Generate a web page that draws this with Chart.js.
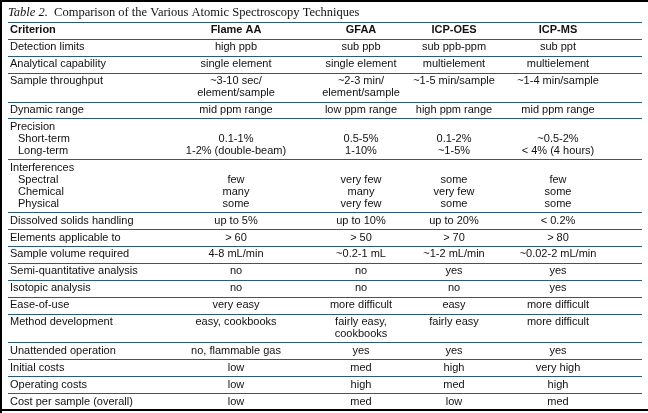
<!DOCTYPE html>
<html>
<head>
<meta charset="utf-8">
<script src="https://cdn.jsdelivr.net/npm/chart.js@4/dist/chart.umd.min.js"></script>
<style>
  html, body { margin: 0; padding: 0; background: #fff; }
  #wrap { width: 648px; height: 413px; }
</style>
</head>
<body>
<div id="wrap"><canvas id="c" width="648" height="413"></canvas></div>
<script>
// ---------- DATA ----------
const tableLabel = "Table 2.";
const tableTitle = "Comparison of the Various Atomic Spectroscopy Techniques";
const headerLabel = "Criterion";
const techniques = ["Flame AA", "GFAA", "ICP-OES", "ICP-MS"];
const criteria = ["Detection limits", "Analytical capability", "Sample throughput", "Dynamic range",
  "Precision", "Interferences", "Dissolved solids handling", "Elements applicable to",
  "Sample volume required", "Semi-quantitative analysis", "Isotopic analysis", "Ease-of-use",
  "Method development", "Unattended operation", "Initial costs", "Operating costs",
  "Cost per sample (overall)"];
const subCriteria = {
  "Precision": ["Short-term", "Long-term"],
  "Interferences": ["Spectral", "Chemical", "Physical"]
};
const flameAA = ["high ppb", "single element", ["~3-10 sec/", "element/sample"], "mid ppm range",
  ["", "0.1-1%", "1-2% (double-beam)"], ["", "few", "many", "some"], "up to 5%", "> 60",
  "4-8 mL/min", "no", "no", "very easy", "easy, cookbooks", "no, flammable gas", "low", "low", "low"];
const gfaa = ["sub ppb", "single element", ["~2-3 min/", "element/sample"], "low ppm range",
  ["", "0.5-5%", "1-10%"], ["", "very few", "many", "very few"], "up to 10%", "> 50",
  "~0.2-1 mL", "no", "no", "more difficult", ["fairly easy,", "cookbooks"], "yes", "med", "high", "med"];
const icpOES = ["sub ppb-ppm", "multielement", "~1-5 min/sample", "high ppm range",
  ["", "0.1-2%", "~1-5%"], ["", "some", "very few", "some"], "up to 20%", "> 70",
  "~1-2 mL/min", "yes", "no", "easy", "fairly easy", "yes", "high", "med", "low"];
const icpMS = ["sub ppt", "multielement", "~1-4 min/sample", "mid ppm range",
  ["", "~0.5-2%", "< 4% (4 hours)"], ["", "few", "some", "some"], "< 0.2%", "> 80",
  "~0.02-2 mL/min", "yes", "yes", "more difficult", "more difficult", "yes", "very high", "high", "med"];
const seriesValues = [flameAA, gfaa, icpOES, icpMS];

// ---------- LAYOUT (styles / positions) ----------
const W = 648, H = 413;
const colCenters = [236, 361, 454, 558];   // x in scale units
const critX = 10, subX = 18;
const ruleLeft = 8, ruleRight = 642;
const PAD = 0.41;                            // row padding in line units
const RULE = "#2b5a7b";
const SANS = '"Liberation Sans", Arial, sans-serif';
const SERIF = '"Liberation Serif", "Times New Roman", serif';
const FS = 11;

// build rows from data
const asLines = v => Array.isArray(v) ? v : [v];
const rows = [];
rows.push({ crit: [headerLabel], cells: techniques.map(t => [t]), header: true });
criteria.forEach((c, i) => {
  const subs = subCriteria[c] || [];
  rows.push({ crit: [c].concat(subs), cells: seriesValues.map(s => asLines(s[i])), header: false });
});
let acc = 0;
rows.forEach(r => {
  r.n = Math.max(r.crit.length, ...r.cells.map(c => c.length));
  r.top = acc;
  acc += r.n + PAD;
  r.bottom = acc;
});
const totalUnits = acc;

const tablePlugin = {
  id: 'tablePlugin',
  afterDraw(chart) {
    const ctx = chart.ctx;
    const xs = chart.scales.x, ys = chart.scales.y;
    ctx.save();
    // title
    ctx.fillStyle = "#111";
    ctx.textBaseline = "middle";
    ctx.textAlign = "left";
    ctx.font = "italic 12.5px " + SERIF;
    const tx = xs.getPixelForValue(8);
    ctx.fillText(tableLabel, tx, 13);
    const w1 = ctx.measureText(tableLabel + "  ").width;
    ctx.font = "12.5px " + SERIF;
    ctx.fillText(tableTitle, tx + w1, 13);

    // outer black frame
    ctx.fillStyle = "#000";
    ctx.fillRect(0, 0, W, 2);
    ctx.fillRect(0, 0, 2, H);
    const yb = Math.round(ys.getPixelForValue(totalUnits));
    ctx.fillRect(0, yb - 1, W, 2);

    // rules
    ctx.strokeStyle = RULE;
    ctx.lineWidth = 1;
    const x0 = xs.getPixelForValue(ruleLeft), x1 = xs.getPixelForValue(ruleRight);
    rows.forEach((r, i) => {
      const y = Math.round(ys.getPixelForValue(r.top)) + 0.5;
      ctx.beginPath(); ctx.moveTo(x0, y); ctx.lineTo(x1, y); ctx.stroke();
    });

    // texts
    ctx.fillStyle = "#111";
    rows.forEach(r => {
      const font = (r.header ? "bold " : "") + FS + "px " + SANS;
      ctx.font = font;
      const lineY = k => ys.getPixelForValue(r.top + PAD / 2 + k + 0.5);
      ctx.textAlign = "left";
      r.crit.forEach((t, k) => {
        ctx.fillText(t, xs.getPixelForValue(k === 0 ? critX : subX), lineY(k));
      });
      ctx.textAlign = "center";
      r.cells.forEach((cell, j) => {
        cell.forEach((t, k) => {
          if (t) ctx.fillText(t, xs.getPixelForValue(colCenters[j]), lineY(k));
        });
      });
    });
    ctx.restore();
  }
};

new Chart(document.getElementById('c'), {
  type: 'scatter',
  data: { datasets: [{ data: [], showLine: false }] },
  options: {
    responsive: false,
    animation: false,
    events: [],
    layout: { padding: { top: 22, bottom: 3, left: 0, right: 0 } },
    plugins: { legend: { display: false }, tooltip: { enabled: false }, title: { display: false } },
    scales: {
      x: { type: 'linear', min: 0, max: W, display: false },
      y: { type: 'linear', min: 0, max: totalUnits, reverse: true, display: false }
    }
  },
  plugins: [tablePlugin]
});
</script>
</body>
</html>
